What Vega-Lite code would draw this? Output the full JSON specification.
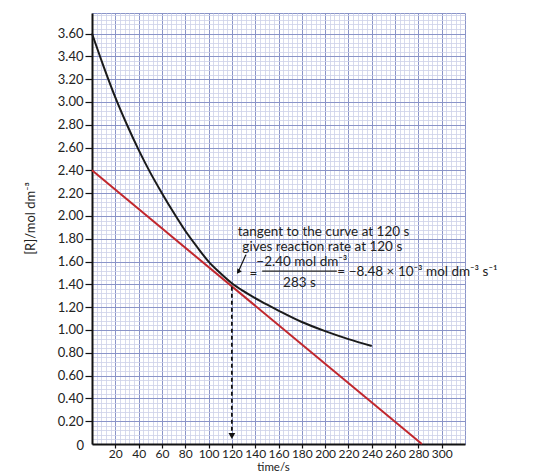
{
  "$schema": "https://vega.github.io/schema/vega-lite/v6.json",
  "width": 373,
  "height": 431,
  "autosize": "none",
  "padding": {"left": 92, "top": 13, "right": 72, "bottom": 29},
  "background": "white",
  "config": {"view": {"stroke": "#8a94c8", "strokeWidth": 1}, "font": "Lato"},
  "datasets": {
    "curve": [
      {"t": 0, "r": 3.60}, {"t": 10, "r": 3.31}, {"t": 20, "r": 3.04}, {"t": 30, "r": 2.80},
      {"t": 40, "r": 2.58}, {"t": 50, "r": 2.38}, {"t": 60, "r": 2.20}, {"t": 70, "r": 2.03},
      {"t": 80, "r": 1.87}, {"t": 90, "r": 1.73}, {"t": 100, "r": 1.60}, {"t": 110, "r": 1.50},
      {"t": 120, "r": 1.41}, {"t": 130, "r": 1.34}, {"t": 145, "r": 1.25}, {"t": 160, "r": 1.17},
      {"t": 180, "r": 1.07}, {"t": 200, "r": 0.99}, {"t": 220, "r": 0.92}, {"t": 240, "r": 0.86}
    ],
    "tangent": [{"t": 0, "r": 2.4}, {"t": 283, "r": 0}],
    "drop": [{"t": 120, "r": 1.38, "r2": 0.1}],
    "dropHead": [{"t": 120, "r": 0.07}],
    "pointer": [{"t": 132, "r": 1.66, "t2": 125.5, "r2": 1.51}],
    "pointerHead": [{"t": 125.5, "r": 1.51}],
    "bar": [{"t": 146, "t2": 210, "r": 1.517}],
    "origin": [{"t": 0, "r": 0, "label": "0"}],
    "leftText": [
      {"t": 125, "r": 1.856, "label": "tangent to the curve at 120 s"},
      {"t": 129, "r": 1.728, "label": "gives reaction rate at 120 s"},
      {"t": 210.5, "r": 1.505, "label": "= −8.48 × 10⁻³ mol dm⁻³ s⁻¹"}
    ],
    "centerText": [
      {"t": 138.5, "r": 1.49, "label": "="},
      {"t": 180, "r": 1.6, "label": "−2.40 mol dm⁻³"},
      {"t": 178, "r": 1.41, "label": "283 s"}
    ]
  },
  "resolve": {"axis": {"x": "independent", "y": "independent"}},
  "layer": [
    {
      "data": {"name": "tangent"},
      "mark": {"type": "line", "color": "#c1272d", "strokeWidth": 2},
      "encoding": {
        "x": {"field": "t", "type": "quantitative", "scale": {"domain": [0, 320], "nice": false, "zero": false},
          "axis": {"orient": "top", "grid": true, "labels": false, "ticks": false, "domain": false, "title": null,
            "gridColor": "#cdd1e8", "gridWidth": 0.8,
            "values": [4,8,12,16,24,28,32,36,44,48,52,56,64,68,72,76,84,88,92,96,104,108,112,116,124,128,132,136,144,148,152,156,164,168,172,176,184,188,192,196,204,208,212,216,224,228,232,236,244,248,252,256,264,268,272,276,284,288,292,296,304,308,312,316]}},
        "y": {"field": "r", "type": "quantitative", "scale": {"domain": [0, 3.78], "nice": false, "zero": false},
          "axis": {"orient": "right", "grid": true, "labels": false, "ticks": false, "domain": false, "title": null,
            "gridColor": "#cdd1e8", "gridWidth": 0.8,
            "values": [0.04,0.08,0.12,0.16,0.24,0.28,0.32,0.36,0.44,0.48,0.52,0.56,0.64,0.68,0.72,0.76,0.84,0.88,0.92,0.96,1.04,1.08,1.12,1.16,1.24,1.28,1.32,1.36,1.44,1.48,1.52,1.56,1.64,1.68,1.72,1.76,1.84,1.88,1.92,1.96,2.04,2.08,2.12,2.16,2.24,2.28,2.32,2.36,2.44,2.48,2.52,2.56,2.64,2.68,2.72,2.76,2.84,2.88,2.92,2.96,3.04,3.08,3.12,3.16,3.24,3.28,3.32,3.36,3.44,3.48,3.52,3.56,3.64,3.68,3.72,3.76]}}
      }
    },
    {
      "data": {"name": "curve"},
      "mark": {"type": "line", "color": "#1a1a1a", "strokeWidth": 2, "interpolate": "monotone"},
      "encoding": {
        "x": {"field": "t", "type": "quantitative",
          "axis": {"orient": "bottom", "grid": true, "gridColor": "#8a94c8", "gridWidth": 1,
            "values": [20,40,60,80,100,120,140,160,180,200,220,240,260,280,300],
            "labelOverlap": false, "labelFlush": false,
            "domainColor": "#111", "domainWidth": 2, "tickColor": "#111", "tickSize": 4, "tickWidth": 1.2,
            "labelFontSize": 12, "labelColor": "#222", "labelPadding": 0,
            "title": "time/s", "titleFontSize": 11.5, "titleFontWeight": "normal", "titleColor": "#222",
            "titleX": 181, "titleY": 23.5, "titleBaseline": "middle", "titleAlign": "center"}},
        "y": {"field": "r", "type": "quantitative",
          "axis": {"orient": "left", "grid": true, "gridColor": "#8a94c8", "gridWidth": 1,
            "values": [0.2,0.4,0.6,0.8,1.0,1.2,1.4,1.6,1.8,2.0,2.2,2.4,2.6,2.8,3.0,3.2,3.4,3.6],
            "format": ".2f",
            "labelOverlap": false, "labelFlush": false,
            "domainColor": "#111", "domainWidth": 2, "tickColor": "#111", "tickSize": 7, "tickWidth": 1.2,
            "labelFontSize": 13, "labelColor": "#222", "labelPadding": 2,
            "title": "[R]/mol dm⁻³", "titleFontSize": 13, "titleFontWeight": "normal", "titleColor": "#222",
            "titleAngle": -90, "titleX": -62, "titleY": 205, "titleBaseline": "middle", "titleAlign": "center"}}
      }
    },
    {
      "data": {"name": "origin"},
      "mark": {"type": "text", "align": "right", "baseline": "middle", "fontSize": 13, "color": "#222", "font": "Lato", "dx": -8, "dy": 2},
      "encoding": {
        "x": {"field": "t", "type": "quantitative", "axis": null},
        "y": {"field": "r", "type": "quantitative", "axis": null},
        "text": {"field": "label"}
      }
    },
    {
      "data": {"name": "drop"},
      "mark": {"type": "rule", "color": "#111", "strokeWidth": 1.8, "strokeDash": [4, 3]},
      "encoding": {
        "x": {"field": "t", "type": "quantitative", "axis": null},
        "y": {"field": "r", "type": "quantitative", "axis": null},
        "y2": {"field": "r2"}
      }
    },
    {
      "data": {"name": "dropHead"},
      "mark": {"type": "point", "shape": "triangle-down", "filled": true, "color": "#111", "size": 45, "opacity": 1},
      "encoding": {
        "x": {"field": "t", "type": "quantitative", "axis": null},
        "y": {"field": "r", "type": "quantitative", "axis": null}
      }
    },
    {
      "data": {"name": "pointer"},
      "mark": {"type": "rule", "color": "#111", "strokeWidth": 1.2},
      "encoding": {
        "x": {"field": "t", "type": "quantitative", "axis": null},
        "y": {"field": "r", "type": "quantitative", "axis": null},
        "x2": {"field": "t2"},
        "y2": {"field": "r2"}
      }
    },
    {
      "data": {"name": "pointerHead"},
      "mark": {"type": "point", "shape": "triangle-up", "angle": 214, "filled": true, "color": "#111", "size": 30, "opacity": 1},
      "encoding": {
        "x": {"field": "t", "type": "quantitative", "axis": null},
        "y": {"field": "r", "type": "quantitative", "axis": null}
      }
    },
    {
      "data": {"name": "bar"},
      "mark": {"type": "rule", "color": "#222", "strokeWidth": 1.2},
      "encoding": {
        "x": {"field": "t", "type": "quantitative", "axis": null},
        "x2": {"field": "t2"},
        "y": {"field": "r", "type": "quantitative", "axis": null}
      }
    },
    {
      "data": {"name": "leftText"},
      "mark": {"type": "text", "align": "left", "baseline": "middle", "fontSize": 13.5, "color": "#222", "font": "Lato"},
      "encoding": {
        "x": {"field": "t", "type": "quantitative", "axis": null},
        "y": {"field": "r", "type": "quantitative", "axis": null},
        "text": {"field": "label"}
      }
    },
    {
      "data": {"name": "centerText"},
      "mark": {"type": "text", "align": "center", "baseline": "middle", "fontSize": 13.5, "color": "#222", "font": "Lato"},
      "encoding": {
        "x": {"field": "t", "type": "quantitative", "axis": null},
        "y": {"field": "r", "type": "quantitative", "axis": null},
        "text": {"field": "label"}
      }
    }
  ]
}
